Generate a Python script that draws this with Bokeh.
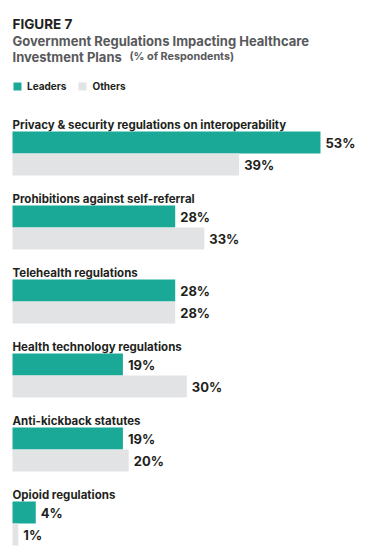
from bokeh.plotting import figure
from bokeh.models import Range1d, Label, ColumnDataSource
from bokeh.embed import file_html
from bokeh.resources import INLINE
from bokeh.core.properties import value

categories = [
    "Privacy & security regulations on interoperability",
    "Prohibitions against self-referral",
    "Telehealth regulations",
    "Health technology regulations",
    "Anti-kickback statutes",
    "Opioid regulations",
]
leaders = [53, 28, 28, 19, 19, 4]
others = [39, 33, 28, 30, 20, 1]
series_names = ["Leaders", "Others"]

TEAL = "#19a996"
GREY = "#e2e3e5"
DARK = "#231f20"
TITLE_GREY = "#58595b"
FONT = "Inter"

W, H = 370, 559
LEFT = 12
PX_PER_UNIT_X = 5.811
GROUP_PX = 74.0
FIRST_CENTER = 142.0
BAR_PX = 22.0
bh = BAR_PX / GROUP_PX

p = figure(width=W, height=H, output_backend="svg", toolbar_location=None,
           x_range=Range1d(-LEFT / PX_PER_UNIT_X, (W - LEFT) / PX_PER_UNIT_X),
           y_range=Range1d((H - FIRST_CENTER) / GROUP_PX, -FIRST_CENTER / GROUP_PX),
           min_border=0, min_border_left=0, min_border_right=0,
           min_border_top=0, min_border_bottom=0)
p.axis.visible = False
p.grid.visible = False
p.outline_line_color = None
p.background_fill_color = "white"
p.border_fill_color = "white"

idx = list(range(len(categories)))
src = ColumnDataSource(dict(
    y_lead=[i for i in idx],
    y_oth=[i + bh for i in idx],
    y_cat=[i - bh / 2 - 7 / GROUP_PX for i in idx],
    leaders=leaders,
    others=others,
    cat=categories,
    lead_txt=[f"{v}%" for v in leaders],
    oth_txt=[f"{v}%" for v in others],
))

p.hbar(y="y_lead", left=0, right="leaders", height=bh, source=src,
       fill_color=TEAL, line_color=None, legend_label=series_names[0])
p.hbar(y="y_oth", left=0, right="others", height=bh, source=src,
       fill_color=GREY, line_color=None, legend_label=series_names[1])

p.text(x=0, y="y_cat", text="cat", source=src, text_baseline="alphabetic",
       text_font=value(FONT), text_font_style="bold", text_font_size="11.5px",
       text_color=DARK)
p.text(x="leaders", y="y_lead", text="lead_txt", source=src, x_offset=5,
       text_baseline="middle", text_font=value(FONT), text_font_style="bold",
       text_font_size="13px", text_color=DARK)
p.text(x="others", y="y_oth", text="oth_txt", source=src, x_offset=5,
       text_baseline="middle", text_font=value(FONT), text_font_style="bold",
       text_font_size="13px", text_color=DARK)

# Titles
p.add_layout(Label(x=LEFT, y=H - 23, x_units="screen", y_units="screen",
                   text="FIGURE 7", text_font=FONT, text_font_style="bold",
                   text_font_size="13.5px", text_color=DARK, text_baseline="alphabetic"))
p.add_layout(Label(x=LEFT, y=H - 40, x_units="screen", y_units="screen",
                   text="Government Regulations Impacting Healthcare", text_font=FONT,
                   text_font_style="bold", text_font_size="13px", text_color=TITLE_GREY,
                   text_baseline="alphabetic"))
p.add_layout(Label(x=LEFT, y=H - 56, x_units="screen", y_units="screen",
                   text="Investment Plans", text_font=FONT,
                   text_font_style="bold", text_font_size="13px", text_color=TITLE_GREY,
                   text_baseline="alphabetic"))
p.add_layout(Label(x=129, y=H - 56, x_units="screen", y_units="screen",
                   text="(% of Respondents)", text_font=FONT,
                   text_font_style="bold", text_font_size="10.8px", text_color=TITLE_GREY,
                   text_baseline="alphabetic"))

lg = p.legend[0]
lg.orientation = "horizontal"
lg.location = (LEFT, H - 92)
lg.margin = 0
lg.padding = 0
lg.spacing = 11
lg.glyph_width = 10
lg.glyph_height = 10
lg.label_height = 10
lg.label_standoff = 5
lg.label_text_font = FONT
lg.label_text_font_style = "bold"
lg.label_text_font_size = "10px"
lg.label_text_color = DARK
lg.border_line_color = None
lg.background_fill_alpha = 0

open("out.html", "w").write(file_html(p, INLINE))
